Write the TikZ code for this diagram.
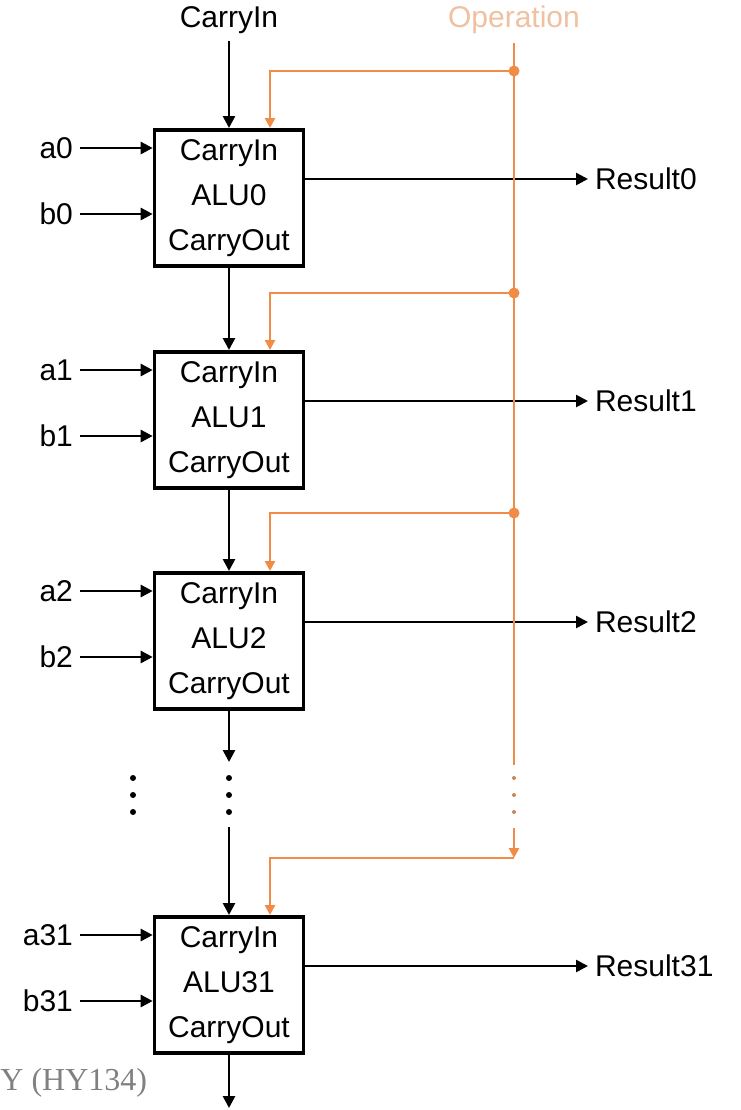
\documentclass[tikz,border=0pt]{standalone}
\usepackage{fontspec}
\setmainfont{Liberation Sans}
\newfontfamily\footfont{Liberation Serif}
\usetikzlibrary{arrows.meta,calc}
\definecolor{opline}{RGB}{240,140,70}
\definecolor{optext}{RGB}{240,192,160}
\tikzset{
  alubox/.style={draw, line width=1.8pt, minimum width=74.5pt, minimum height=68pt,
    inner sep=0pt, align=center, font=\fontsize{15}{22.5}\selectfont},
  lbl/.style={font=\fontsize{15}{18}\selectfont},
  sig/.style={line width=1.3pt, -{Triangle[length=6pt,width=6pt]}},
  opsig/.style={draw=opline, line width=1.3pt},
  optip/.style={-{Triangle[length=5pt,width=5pt]}},
}
\begin{document}
\begin{tikzpicture}[x=0.5pt,y=-0.5pt]
  \useasboundingbox (0,0) rectangle (740,1110);
  % Top inputs
  \node[lbl] (cin) at (229,20) {CarryIn};
  \node[lbl, text=optext] (op) at (514,20) {Operation};
  \coordinate (optop) at (514,43);
  % The four ALU slices: name / top / junction of the operation bus
  \foreach \n/\t/\j in {0/128/71, 1/350/293, 2/571/513, 31/915/858}{
    \node[alubox, anchor=north] (alu\n) at (229,\t) {CarryIn\\ALU\n\\CarryOut};
    \node[lbl, anchor=east] (a\n) at (80,\t+20) {a\n};
    \node[lbl, anchor=east] (b\n) at (80,\t+86) {b\n};
    \draw[sig] (a\n) -- (a\n -| alu\n.west);
    \draw[sig] (b\n) -- (b\n -| alu\n.west);
    \node[lbl, anchor=west] (res\n) at (588,\t+51) {Result\n};
    \draw[sig] (res\n -| alu\n.east) -- (res\n);
    \coordinate (j\n) at (514,\j);
    \draw[opsig, optip] (j\n) -| ($(alu\n.north)+(41,0)$);
  }
  % Junction dots on the operation bus
  \foreach \n in {0,1,2}{
    \fill[opline] (j\n) circle (5.5);
  }
  % Carry chain
  \coordinate (gapA) at (229,762);
  \coordinate (gapB) at (229,827);
  \coordinate (cout) at (229,1108);
  \draw[sig] (cin) -- (alu0);
  \draw[sig] (alu0) -- (alu1);
  \draw[sig] (alu1) -- (alu2);
  \draw[sig] (alu2) -- (gapA);
  \draw[sig] (gapB) -- (alu31);
  \draw[sig] (alu31) -- (cout);
  % Operation bus
  \coordinate (opgapA) at (514,765);
  \coordinate (opgapB) at (514,828);
  \draw[opsig] (optop) -- (opgapA);
  \draw[opsig, optip] (opgapB) -- (j31);
  % Ellipsis dots
  \foreach \y in {778,795,812}{
    \fill (229,\y) circle (3);
    \fill (133,\y) circle (3);
    \fill[opline!60!gray] (514,\y) circle (2);
  }
  % Footer fragment
  \node[font=\footfont\fontsize{16}{20}\selectfont, text=gray, anchor=west, inner sep=0pt]
    (foot) at (0,1083) {Y (HY134)};
\end{tikzpicture}
\end{document}
